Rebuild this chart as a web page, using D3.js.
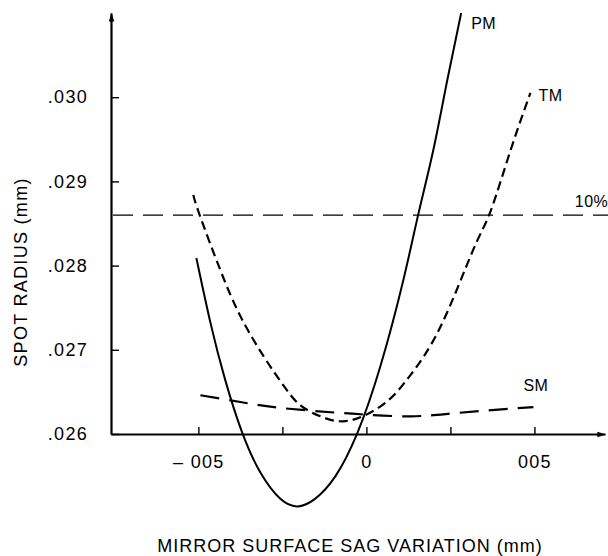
<!DOCTYPE html>
<html>
<head>
<meta charset="utf-8">
<script src="https://cdn.jsdelivr.net/npm/d3@7"></script>
<style>
  body { margin: 0; background: #fff; }
  svg { display: block; font-family: "Liberation Sans", Arial, sans-serif; }
</style>
</head>
<body>
<svg id="chart" width="608" height="556"></svg>
<script>
// sag variation (mm) vs spot radius (mm)
const pmPoints = [
  [-0.00506, 0.02809], [-0.00464, 0.02732], [-0.00420, 0.02664], [-0.00369, 0.02601],
  [-0.00315, 0.02554], [-0.00256, 0.02523], [-0.00205, 0.02514], [-0.00153, 0.02523],
  [-0.00092, 0.02550], [-0.00027, 0.02601], [0.00042, 0.02681], [0.00110, 0.02783],
  [0.00155, 0.02862], [0.00199, 0.02937], [0.00240, 0.03019], [0.00282, 0.03100]
];
const tmPoints = [
  [-0.00515, 0.02884], [-0.00497, 0.02861], [-0.00435, 0.02795], [-0.00375, 0.02740],
  [-0.00307, 0.02693], [-0.00242, 0.02655], [-0.00196, 0.02634], [-0.00137, 0.02621],
  [-0.00071, 0.02615], [0.00000, 0.02623], [0.00071, 0.02642], [0.00131, 0.02670],
  [0.00220, 0.02727], [0.00318, 0.02819], [0.00369, 0.02864], [0.00429, 0.02937],
  [0.00488, 0.03005]
];
const smPoints = [
  [-0.00494, 0.02646], [-0.00375, 0.02638], [-0.00256, 0.02631], [-0.00077, 0.02625],
  [0.00000, 0.02623], [0.00131, 0.02621], [0.00271, 0.02625], [0.00497, 0.02632]
];
const tenPercent = 0.0286;

const xTicks = [-0.005, -0.0025, 0, 0.0025, 0.005];
const xTickLabels = ["\u2013 005", "", "0", "", "005"];
const yTicks = [0.026, 0.027, 0.028, 0.029, 0.030];
const yTickLabels = [".026", ".027", ".028", ".029", ".030"];

const margin = { top: 13, left: 111 },
  width = 494,
  height = 421;

const svg = d3.select("#chart");

svg.append("defs").append("marker")
  .attr("id", "arrow")
  .attr("viewBox", "0 0 10 10")
  .attr("refX", 9).attr("refY", 5)
  .attr("markerWidth", 9).attr("markerHeight", 9)
  .attr("markerUnits", "userSpaceOnUse")
  .attr("orient", "auto")
  .append("path")
  .attr("d", "M0,2L10,5L0,8Z")
  .attr("fill", "#000");

const g = svg.append("g")
  .attr("transform", "translate(" + margin.left + "," + margin.top + ")");

const x = d3.scaleLinear().domain([-0.0076, 0.0071]).range([0, width]);
const y = d3.scaleLinear().domain([0.026, 0.031]).range([height, 0]);

// y axis
const yAxis = g.append("g")
  .call(d3.axisLeft(y)
    .tickValues(yTicks)
    .tickFormat((d, i) => yTickLabels[i])
    .tickSizeInner(-8)
    .tickSizeOuter(0)
    .tickPadding(23));
yAxis.select(".domain").attr("stroke-width", 2.2).attr("marker-end", "url(#arrow)");
yAxis.selectAll(".tick line").attr("stroke-width", 1.4);
yAxis.selectAll("text").attr("font-size", 18).attr("letter-spacing", 1.3).attr("fill", "#000")
  .attr("font-family", "'Liberation Sans', Arial, sans-serif");

// x axis
const xAxis = g.append("g")
  .attr("transform", "translate(0," + height + ")")
  .call(d3.axisBottom(x)
    .tickValues(xTicks)
    .tickFormat((d, i) => xTickLabels[i])
    .tickSizeInner(-7)
    .tickSizeOuter(0)
    .tickPadding(21));
xAxis.select(".domain").attr("stroke-width", 2.2).attr("marker-end", "url(#arrow)");
xAxis.selectAll(".tick line").attr("stroke-width", 1.4);
xAxis.selectAll("text").attr("font-size", 18).attr("letter-spacing", 1.3).attr("fill", "#000")
  .attr("font-family", "'Liberation Sans', Arial, sans-serif");

// 10% reference line
g.append("line")
  .attr("x1", x(-0.0076) + 2).attr("x2", width + 3)
  .attr("y1", y(tenPercent)).attr("y2", y(tenPercent))
  .attr("stroke", "#000").attr("stroke-width", 1.3)
  .attr("stroke-dasharray", "20,10");

const line = d3.line()
  .x(d => x(d[0]))
  .y(d => y(d[1]))
  .curve(d3.curveNatural);

g.append("path").datum(smPoints)
  .attr("d", line).attr("fill", "none").attr("stroke", "#000")
  .attr("stroke-width", 2.2).attr("stroke-dasharray", "19,10");

g.append("path").datum(tmPoints)
  .attr("d", line).attr("fill", "none").attr("stroke", "#000")
  .attr("stroke-width", 2.2).attr("stroke-dasharray", "9,5");

g.append("path").datum(pmPoints)
  .attr("d", line).attr("fill", "none").attr("stroke", "#000")
  .attr("stroke-width", 2);

// curve labels
const lbl = (px, py, t) => g.append("text")
  .attr("x", px).attr("y", py)
  .attr("font-size", 16).attr("letter-spacing", 0.5)
  .text(t);

const pmEnd = pmPoints[pmPoints.length - 1];
const tmEnd = tmPoints[tmPoints.length - 1];
const smEnd = smPoints[smPoints.length - 1];
lbl(x(pmEnd[0]) + 10, y(pmEnd[1]) + 16, "PM");
lbl(x(tmEnd[0]) + 8, y(tmEnd[1]) + 8, "TM");
lbl(x(smEnd[0]) - 10, y(smEnd[1]) - 16, "SM");
lbl(x(0.0062), y(tenPercent) - 8, "10%");

// axis titles
svg.append("text")
  .attr("x", 350).attr("y", 552)
  .attr("text-anchor", "middle")
  .attr("font-size", 18).attr("letter-spacing", 1)
  .text("MIRROR SURFACE SAG VARIATION (mm)");

svg.append("text")
  .attr("transform", "translate(27,272) rotate(-90)")
  .attr("text-anchor", "middle")
  .attr("font-size", 18).attr("letter-spacing", 1.3)
  .text("SPOT RADIUS (mm)");
</script>
</body>
</html>
